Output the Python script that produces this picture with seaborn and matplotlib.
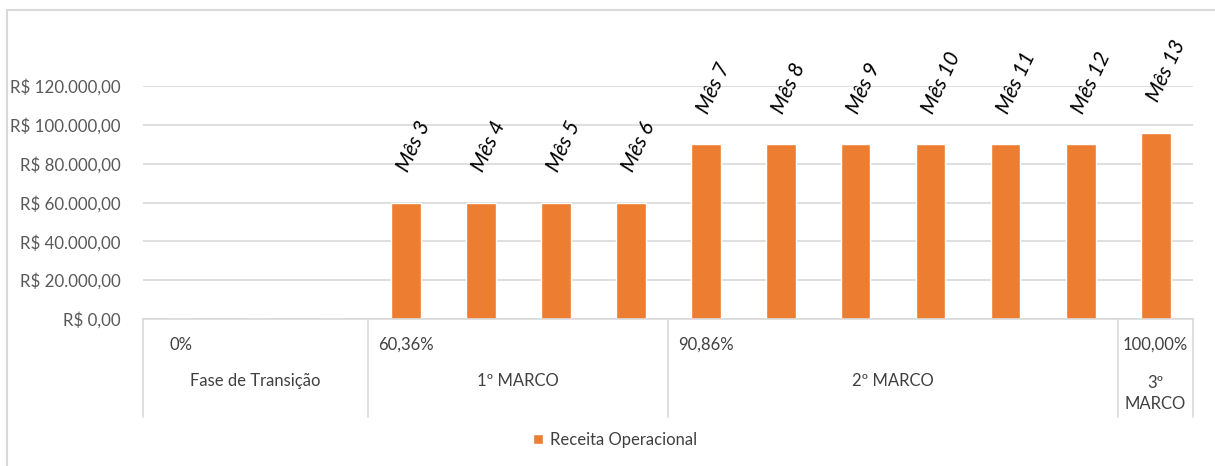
import numpy as np
import pandas as pd
import matplotlib
matplotlib.use("Agg")
import matplotlib.pyplot as plt
import matplotlib.transforms as mtransforms
from matplotlib.lines import Line2D
import seaborn as sns

# data
meses = ['Mês 0', 'Mês 1', 'Mês 2', 'Mês 3', 'Mês 4', 'Mês 5', 'Mês 6', 'Mês 7',
         'Mês 8', 'Mês 9', 'Mês 10', 'Mês 11', 'Mês 12', 'Mês 13']
receita = [0, 0, 0, 60000, 60000, 60000, 60000, 90000,
           90000, 90000, 90000, 90000, 90000, 96000]
grupos = ['Fase de Transição', '1º MARCO', '2º MARCO', '3º\nMARCO']
grupo_inicio = [0, 3, 7, 13]
grupo_fim = [3, 7, 13, 14]
percentuais = ['0%', '60,36%', '90,86%', '100,00%']

df = pd.DataFrame({'mes': meses, 'receita': receita})

sns.set_style('white')
plt.rcParams['font.family'] = ['Lato', 'DejaVu Sans']

fig = plt.figure(figsize=(12.15, 4.66), dpi=100)
ax = fig.add_axes([143 / 1215, 1 - 319 / 466, 1050 / 1215, 233 / 466])

sns.barplot(data=df, x='mes', y='receita', order=meses, color='#ED7D31',
            width=0.4, saturation=1, label='Receita Operacional', ax=ax)

ax.set_ylim(0, 120000)
ax.set_xlim(-0.5, len(meses) - 0.5)
ax.set_yticks(np.arange(0, 120001, 20000))
ax.set_yticklabels(['R$ ' + f'{v:,.2f}'.replace(',', 'X').replace('.', ',').replace('X', '.')
                    for v in np.arange(0, 120001, 20000)])
ax.tick_params(axis='y', length=0, pad=16, labelsize=12.2, labelcolor='#595959')
ax.set_xticks([])
ax.set_xlabel('')
ax.set_ylabel('')
ax.grid(axis='y', color='#d9d9d9', linewidth=1.2)
ax.set_axisbelow(True)
for s in ['top', 'right', 'left']:
    ax.spines[s].set_visible(False)
ax.spines['bottom'].set_color('#d9d9d9')
ax.spines['bottom'].set_linewidth(1.2)

# data labels (rotated month names)
for i, (m, v) in enumerate(zip(meses, receita)):
    if v > 0:
        ax.annotate(m, (i, v), xytext=(2, 21), textcoords='offset points',
                    rotation=65, rotation_mode='anchor', ha='left', va='baseline',
                    fontsize=15, style='italic', color='black', annotation_clip=False)

# multi-level category axis
trans = mtransforms.blended_transform_factory(ax.transData, ax.transAxes)
for b in grupo_inicio + [len(meses)]:
    ax.add_line(Line2D([b - 0.5, b - 0.5], [0, -0.42], transform=trans,
                       color='#d9d9d9', lw=1.2, clip_on=False))
for g, p, a, f in zip(grupos, percentuais, grupo_inicio, grupo_fim):
    ax.text(a, -0.112, p, transform=trans, ha='center', va='center',
            fontsize=12, color='#404040')
    ax.text((a + f - 1) / 2, -0.32 if '\n' in g else -0.266, g, transform=trans,
            ha='center', va='center', fontsize=12, color='#404040', linespacing=1.4)

# legend
h, l = ax.get_legend_handles_labels()
fig.legend(h, l, loc='center', bbox_to_anchor=(615 / 1215, 1 - 440 / 466), frameon=False,
           fontsize=12, handlelength=0.6, handleheight=0.6, handletextpad=0.4,
           labelcolor='#404040')
if ax.get_legend():
    ax.get_legend().remove()

# chart border
fig.add_artist(Line2D([7 / 1215, 1], [1 - 10 / 466, 1 - 10 / 466], color='#d9d9d9', lw=1.5))
fig.add_artist(Line2D([7 / 1215, 7 / 1215], [0, 1 - 10 / 466], color='#d9d9d9', lw=1.5))

fig.savefig('out.png', dpi=100)
